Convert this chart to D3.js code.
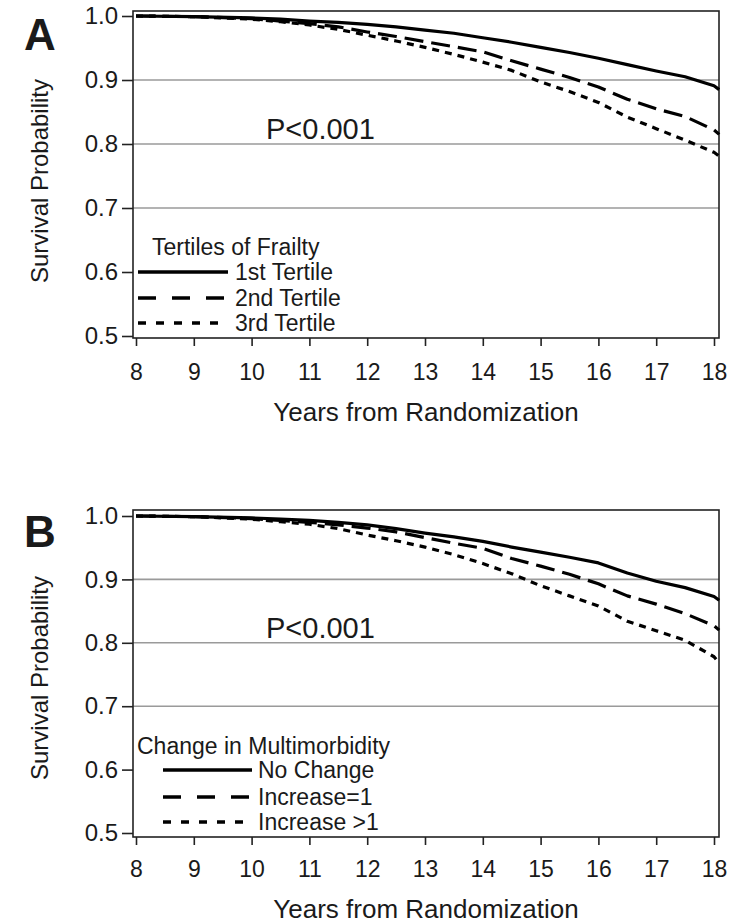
<!DOCTYPE html>
<html>
<head>
<meta charset="utf-8">
<script src="https://cdn.jsdelivr.net/npm/d3@7"></script>
<style>
  body { margin: 0; background: #fff; }
  text { font-family: "Liberation Sans", Arial, sans-serif; fill: #1a1a1a; }
</style>
</head>
<body>
<div id="chart"></div>
<script>
let width = 730,
    height = 924;

let years = [8, 9, 10, 10.5, 11, 11.5, 12, 12.5, 13, 13.5, 14, 14.5, 15, 15.5, 16, 16.5, 17, 17.5, 18, 18.09];

// panel A - tertiles of frailty
let frailtyNames = ["1st Tertile", "2nd Tertile", "3rd Tertile"];
let frailty1 = [1.0, 0.999, 0.997, 0.995, 0.992, 0.990, 0.987, 0.983, 0.978, 0.973, 0.966, 0.959, 0.951, 0.943, 0.934, 0.924, 0.914, 0.905, 0.891, 0.885];
let frailty2 = [1.0, 0.999, 0.996, 0.992, 0.988, 0.983, 0.975, 0.968, 0.960, 0.952, 0.944, 0.930, 0.917, 0.904, 0.889, 0.870, 0.855, 0.843, 0.822, 0.815];
let frailty3 = [1.0, 0.999, 0.995, 0.991, 0.986, 0.979, 0.970, 0.961, 0.951, 0.940, 0.928, 0.915, 0.897, 0.882, 0.865, 0.842, 0.824, 0.806, 0.787, 0.781];

// panel B - change in multimorbidity
let multiNames = ["No Change", "Increase=1", "Increase >1"];
let multi0 = [1.0, 0.999, 0.997, 0.995, 0.993, 0.990, 0.986, 0.980, 0.973, 0.967, 0.960, 0.951, 0.943, 0.935, 0.926, 0.910, 0.897, 0.887, 0.873, 0.867];
let multi1 = [1.0, 0.999, 0.996, 0.993, 0.990, 0.986, 0.981, 0.975, 0.966, 0.957, 0.949, 0.933, 0.921, 0.908, 0.893, 0.874, 0.861, 0.846, 0.827, 0.820];
let multi2 = [1.0, 0.999, 0.995, 0.991, 0.987, 0.980, 0.970, 0.961, 0.951, 0.939, 0.925, 0.909, 0.890, 0.874, 0.858, 0.834, 0.819, 0.804, 0.778, 0.768];

let xTicks = [8, 9, 10, 11, 12, 13, 14, 15, 16, 17, 18];
let yTicks = [0.5, 0.6, 0.7, 0.8, 0.9, 1.0];
let gridTicks = [0.7, 0.8, 0.9];

let lineDash = [null, "19,8", "7,6"];
let legendDash = [null, "18,16", "8,10"];

let svg = d3.select("#chart").append("svg")
    .attr("width", width)
    .attr("height", height)
    .style("background", "#fff");

function drawPanel(p) {
  let x = d3.scaleLinear().domain([8, 18]).range([136, 714]);
  let y = d3.scaleLinear().domain([0.5, 1.0]).range(p.yRange);

  let g = svg.append("g");

  g.selectAll(".grid")
    .data(gridTicks)
    .enter()
    .append("line")
    .attr("x1", 133).attr("x2", 719)
    .attr("y1", d => y(d)).attr("y2", d => y(d))
    .attr("stroke", "#9a9a9a")
    .attr("stroke-width", 1.6);

  // frame
  g.append("rect")
    .attr("x", 133).attr("y", p.boxTop)
    .attr("width", 586).attr("height", p.boxBottom - p.boxTop)
    .attr("fill", "none")
    .attr("stroke", "#222")
    .attr("stroke-width", 1.6);

  // y axis
  let yAxis = g.append("g")
    .attr("transform", "translate(133,0)")
    .call(d3.axisLeft(y).tickValues(yTicks).tickFormat(d3.format(".1f")).tickSize(11).tickPadding(4));
  yAxis.select(".domain").remove();
  yAxis.selectAll("line").attr("stroke", "#222").attr("stroke-width", 1.6);
  yAxis.selectAll("text").style("font-size", "24px").attr("fill", "#1a1a1a");

  // x axis
  let xAxis = g.append("g")
    .attr("transform", "translate(0," + p.boxBottom + ")")
    .call(d3.axisBottom(x).tickValues(xTicks).tickSize(8));
  xAxis.select(".domain").remove();
  xAxis.selectAll("line").attr("stroke", "#222").attr("stroke-width", 1.6);
  xAxis.selectAll("text")
    .style("font-size", "23px")
    .attr("fill", "#1a1a1a")
    .attr("y", p.xLabelY)
    .attr("dy", 0);

  // curves
  let line = d3.line()
    .x((d, i) => x(years[i]))
    .y(d => y(d));

  g.selectAll(".curve")
    .data(p.series)
    .enter()
    .append("path")
    .attr("d", d => line(d))
    .attr("fill", "none")
    .attr("stroke", "#000")
    .attr("stroke-width", 3.2)
    .attr("stroke-linejoin", "round")
    .attr("stroke-dasharray", (d, i) => lineDash[i]);

  // titles
  g.append("text")
    .attr("transform", "translate(48," + p.yTitleY + ") rotate(-90)")
    .attr("text-anchor", "middle")
    .style("font-size", "24px")
    .text("Survival Probability");

  g.append("text")
    .attr("x", 426).attr("y", p.xTitleY)
    .attr("text-anchor", "middle")
    .style("font-size", "26px")
    .text("Years from Randomization");

  g.append("text")
    .attr("x", 24).attr("y", p.letterY)
    .style("font-size", "44px")
    .style("font-weight", "bold")
    .attr("fill", "#000")
    .text(p.letter);

  g.append("text")
    .attr("x", 266).attr("y", p.pY)
    .style("font-size", "29px")
    .text("P<0.001");

  // legend
  let lg = p.legend;
  g.append("text")
    .attr("x", lg.titleX).attr("y", lg.titleY)
    .style("font-size", "23px")
    .text(lg.title);

  p.names.forEach((name, i) => {
    let ly = lg.lineY[i];
    g.append("line")
      .attr("x1", lg.x1).attr("x2", lg.x2)
      .attr("y1", ly).attr("y2", ly)
      .attr("stroke", "#000")
      .attr("stroke-width", 3.4)
      .attr("stroke-dasharray", legendDash[i]);
    g.append("text")
      .attr("x", lg.labelX).attr("y", ly + 8)
      .style("font-size", "23px")
      .text(name);
  });
}

drawPanel({
  letter: "A",
  yRange: [336, 16],
  boxTop: 11,
  boxBottom: 338,
  xLabelY: 42,
  xTitleY: 421,
  yTitleY: 181,
  letterY: 50,
  pY: 139,
  series: [frailty1, frailty2, frailty3],
  names: frailtyNames,
  legend: { title: "Tertiles of Frailty", titleX: 152, titleY: 255, x1: 138, x2: 228, labelX: 235, lineY: [272, 298, 323] }
});

drawPanel({
  letter: "B",
  yRange: [833, 516],
  boxTop: 510,
  boxBottom: 837,
  xLabelY: 40,
  xTitleY: 918,
  yTitleY: 678,
  letterY: 547,
  pY: 638,
  series: [multi0, multi1, multi2],
  names: multiNames,
  legend: { title: "Change in Multimorbidity", titleX: 137, titleY: 754, x1: 163, x2: 252, labelX: 258, lineY: [770, 797, 822] }
});
</script>
</body>
</html>
